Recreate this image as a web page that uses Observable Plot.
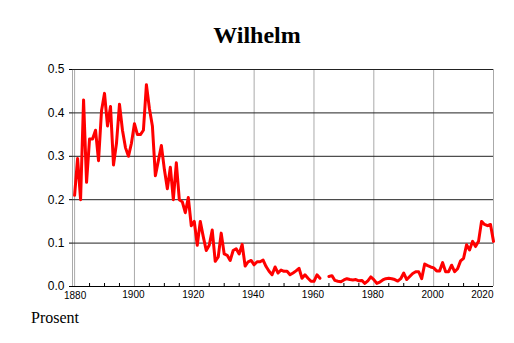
<!DOCTYPE html>
<html>
<head>
<meta charset="utf-8">
<script src="https://cdn.jsdelivr.net/npm/d3@7"></script>
<script src="https://cdn.jsdelivr.net/npm/@observablehq/plot@0.6"></script>
<style>
  html, body { margin: 0; padding: 0; background: #fff; }
  body { width: 514px; height: 343px; overflow: hidden; }
  #title { height: 34px; padding-top: 22px; line-height: 24px; text-align: center;
           font: bold 24px "Liberation Serif", "Times New Roman", serif; color: #000; }
  #chart svg { display: block; }
  #caption { padding-top: 5px; padding-left: 31px; line-height: 16px;
             font: 16px "Liberation Serif", "Times New Roman", serif; color: #000; }
</style>
</head>
<body>
<div id="title">Wilhelm</div>
<div id="chart"></div>
<div id="caption">Prosent</div>
<script>
const startYear = 1880;
const values = [
  0.21, 0.295, 0.20, 0.43, 0.24, 0.34, 0.34, 0.36, 0.29, 0.405,
  0.445, 0.37, 0.415, 0.28, 0.33, 0.42, 0.36, 0.32, 0.30, 0.33,
  0.375, 0.35, 0.35, 0.36, 0.465, 0.41, 0.37, 0.255, 0.29, 0.325,
  0.27, 0.225, 0.275, 0.20, 0.285, 0.20, 0.195, 0.17, 0.205, 0.14,
  0.15, 0.095, 0.15, 0.115, 0.083, 0.095, 0.13, 0.058, 0.068, 0.123,
  0.075, 0.072, 0.06, 0.083, 0.087, 0.075, 0.097, 0.047, 0.057, 0.06,
  0.05, 0.057, 0.057, 0.061, 0.046, 0.035, 0.027, 0.045, 0.031, 0.038,
  0.035, 0.035, 0.027, 0.031, 0.036, 0.042, 0.019, 0.027, 0.019, 0.012,
  0.012, 0.027, 0.019, null, null, 0.023, 0.025, 0.014, 0.012, 0.011,
  0.015, 0.018, 0.016, 0.015, 0.016, 0.013, 0.014, 0.007, 0.013, 0.022,
  0.016, 0.007, 0.01, 0.015, 0.018, 0.019, 0.018, 0.016, 0.0125, 0.018,
  0.031, 0.016, 0.023, 0.03, 0.034, 0.034, 0.018, 0.052, 0.048, 0.045,
  0.043, 0.036, 0.036, 0.055, 0.034, 0.034, 0.049, 0.034, 0.041, 0.059,
  0.065, 0.096, 0.084, 0.104, 0.092, 0.104, 0.15, 0.143, 0.14, 0.143,
  0.104
];
const xDomain = [1879.3, 2020];
const xMajorTicks = [1880, 1900, 1920, 1940, 1960, 1980, 2000, 2020];
const xMinorTicks = [1885, 1890, 1895, 1905, 1910, 1915, 1925, 1930, 1935, 1945, 1950, 1955,
                     1965, 1970, 1975, 1985, 1990, 1995, 2005, 2010, 2015];
const yTicks = [0, 0.1, 0.2, 0.3, 0.4, 0.5];

const data = values.map((v, i) => ({year: startYear + i, value: v}));

const chart = Plot.plot({
  width: 514,
  height: 248,
  marginTop: 13,
  marginBottom: 18,
  marginLeft: 72,
  marginRight: 21,
  x: {domain: xDomain, label: null},
  y: {domain: [0, 0.5], label: null},
  style: {fontFamily: '"Liberation Sans", Arial, sans-serif', fontSize: "10px", color: "#000", background: "#fff"},
  marks: [
    Plot.ruleX(xMajorTicks, {stroke: "#aaa", strokeWidth: 1}),
    Plot.ruleX([xDomain[0]], {stroke: "#aaa", strokeWidth: 1}),
    Plot.ruleY(yTicks, {stroke: "#222", strokeWidth: 1}),
    Plot.ruleY([0], {stroke: "#000", strokeWidth: 1.2}),
    Plot.line(data, {x: "year", y: "value", stroke: "#ff0000", strokeWidth: 3,
                     strokeLinejoin: "round", strokeLinecap: "round"}),
    Plot.axisY(yTicks, {tickSize: 3, tickPadding: 5, tickFormat: d3.format(".1f"),
                        fontSize: 12, label: null, stroke: "#000"}),
    Plot.axisX(xMinorTicks, {tickSize: 3, dy: -3, tickFormat: () => "", label: null}),
    Plot.axisX([xMajorTicks[0]], {tickSize: 0, tickPadding: 5, dx: 0.5, fontSize: 10, label: null, tickFormat: d3.format("d")}),
    Plot.axisX(xMajorTicks.slice(1, -1), {tickSize: 0, tickPadding: 4, dx: -1, fontSize: 10, label: null, tickFormat: d3.format("d")}),
    Plot.axisX(xMajorTicks.slice(-1), {tickSize: 0, tickPadding: 4, textAnchor: "end", fontSize: 10, label: null, tickFormat: d3.format("d")})
  ]
});
document.getElementById("chart").appendChild(chart);
</script>
</body>
</html>
